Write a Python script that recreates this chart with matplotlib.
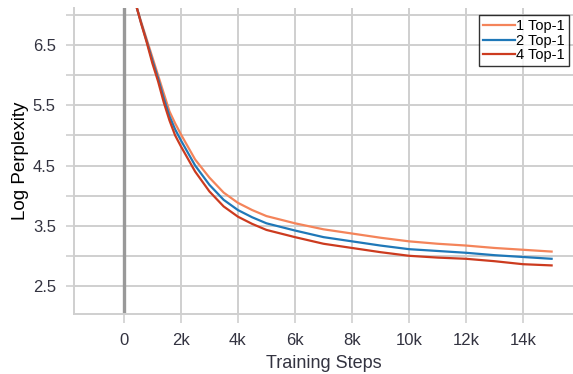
import matplotlib
matplotlib.use("Agg")
import matplotlib.pyplot as plt
from matplotlib.ticker import FixedLocator, FuncFormatter

plt.rcParams['font.family'] = ['Liberation Sans', 'DejaVu Sans']

steps = [450, 600, 800, 1000, 1200, 1400, 1600, 1800, 2000, 2500, 3000, 3500, 4000,
         4500, 5000, 6000, 7000, 8000, 9000, 10000, 11000, 12000, 13000, 14000, 15000]
top1_1 = [7.13, 6.9, 6.6, 6.3, 6.0, 5.7, 5.4, 5.2, 5.02, 4.6, 4.3, 4.05, 3.88,
          3.76, 3.66, 3.54, 3.44, 3.37, 3.30, 3.24, 3.20, 3.17, 3.13, 3.10, 3.07]
top1_2 = [7.13, 6.88, 6.57, 6.25, 5.95, 5.62, 5.32, 5.1, 4.92, 4.5, 4.18, 3.93, 3.76,
          3.64, 3.54, 3.42, 3.31, 3.24, 3.17, 3.11, 3.08, 3.05, 3.01, 2.98, 2.95]
top1_4 = [7.13, 6.87, 6.55, 6.2, 5.9, 5.55, 5.25, 5.0, 4.82, 4.4, 4.07, 3.82, 3.65,
          3.53, 3.43, 3.31, 3.2, 3.13, 3.06, 3.0, 2.97, 2.95, 2.91, 2.86, 2.84]
labels = ["1 Top-1", "2 Top-1", "4 Top-1"]
colors = ["#f4845a", "#1f78b8", "#cc3b1f"]

fig = plt.figure(figsize=(5.73, 3.74), dpi=100)
ax = fig.add_axes([0.129, 0.16, 0.871, 0.819])

for ys, lab, c in zip([top1_1, top1_2, top1_4], labels, colors):
    ax.plot(steps, ys, color=c, lw=1.6, label=lab, zorder=3)

ax.set_xlim(-1750, 15750)
ax.set_ylim(2.03, 7.12)

ax.xaxis.set_major_locator(FixedLocator([0, 2000, 4000, 6000, 8000, 10000, 12000, 14000]))
ax.xaxis.set_major_formatter(FuncFormatter(lambda v, p: "0" if v == 0 else f"{int(v/1000)}k"))
ax.yaxis.set_major_locator(FixedLocator([2.5, 3.5, 4.5, 5.5, 6.5]))
ax.yaxis.set_minor_locator(FixedLocator([3.0, 4.0, 5.0, 6.0, 7.0]))

ax.grid(True, which='major', color='#cfcfcf', lw=1.4, zorder=0)
ax.grid(True, which='minor', axis='y', color='#cfcfcf', lw=1.4, zorder=0)
ax.axvline(0, color='#999999', lw=2.4, zorder=2)

for s in ['top', 'right']:
    ax.spines[s].set_visible(False)
for s in ['left', 'bottom']:
    ax.spines[s].set_color('#cfcfcf')
    ax.spines[s].set_linewidth(1.4)

ax.tick_params(axis='both', which='both', color='#cfcfcf', width=1.2,
               labelsize=12, labelcolor='#333340')
ax.tick_params(axis='x', length=6.5, pad=7)
ax.tick_params(axis='y', which='both', length=6, pad=7)

ax.set_xlabel("Training Steps", fontsize=13, color='#333340', labelpad=5)
ax.set_ylabel("Log Perplexity", fontsize=13.5, color='black', labelpad=3)

leg = ax.legend(loc='upper right', bbox_to_anchor=(0.997, 0.985), fontsize=10.5,
                frameon=True, fancybox=False, handlelength=2.2, handletextpad=0.1,
                borderpad=0.25, labelspacing=0.05, borderaxespad=0.2)
leg.get_frame().set_edgecolor('black')
leg.get_frame().set_linewidth(1.0)

fig.savefig("out.png", dpi=100)
